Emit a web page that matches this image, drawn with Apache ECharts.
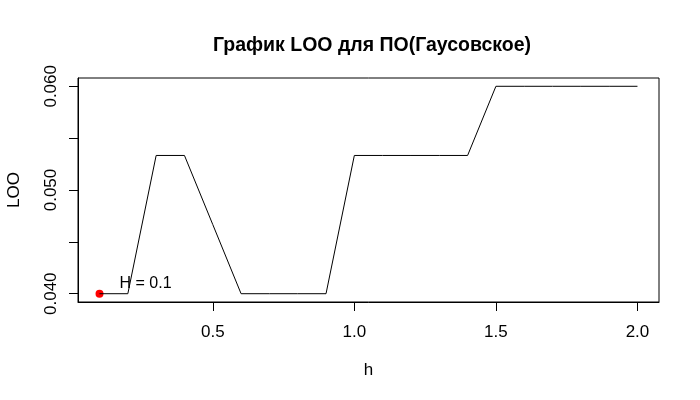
<!DOCTYPE html>
<html>
<head>
<meta charset="utf-8">
<script src="https://cdn.jsdelivr.net/npm/echarts@6/dist/echarts.min.js"></script>
<style>html,body{margin:0;padding:0;background:#fff}#c{width:700px;height:400px}</style>
</head>
<body>
<div id="c"></div>
<script>
const hValues = [0.1, 0.2, 0.3, 0.4, 0.5, 0.6, 0.7, 0.8, 0.9, 1.0, 1.1, 1.2, 1.3, 1.4, 1.5, 1.6, 1.7, 1.8, 1.9, 2.0];
const looValues = [0.04, 0.04, 0.05333, 0.05333, 0.04667, 0.04, 0.04, 0.04, 0.04, 0.05333, 0.05333, 0.05333, 0.05333, 0.05333, 0.06, 0.06, 0.06, 0.06, 0.06, 0.06];
const xTicks = [0.5, 1.0, 1.5, 2.0];
const yTicks = [0.040, 0.045, 0.050, 0.055, 0.060];
const yLabels = [0.040, 0.050, 0.060];
const bestH = 0.1;
const bestLoo = 0.04;
const titleText = 'График LOO для ПО(Гаусовское)';

const FONT = '"Liberation Sans", Arial, sans-serif';
const chart = echarts.init(document.getElementById('c'), null, {renderer: 'canvas'});
chart.setOption({
  animation: false,
  backgroundColor: '#fff',
  title: {
    text: titleText,
    left: 367, top: 31, textAlign: 'center',
    textStyle: {fontFamily: FONT, fontSize: 19.5, fontWeight: 'bold', color: '#000'}
  },
  grid: {left: 78, right: 41, top: 78, bottom: 98, outerBoundsMode: 'none', containLabel: false,
    show: true, borderColor: '#000', borderWidth: 1, backgroundColor: 'transparent'},
  xAxis: {
    type: 'value', min: 0.024, max: 2.076,
    name: 'h', nameLocation: 'middle', nameGap: 60,
    nameTextStyle: {fontFamily: FONT, fontSize: 17, color: '#000'},
    axisLine: {show: true, lineStyle: {color: '#000', width: 1}},
    splitLine: {show: false},
    axisTick: {show: true, length: 9, lineStyle: {color: '#000'}, customValues: xTicks},
    axisLabel: {customValues: xTicks, margin: 22, fontFamily: FONT, fontSize: 17, color: '#000',
      formatter: v => v.toFixed(1)}
  },
  yAxis: {
    type: 'value', min: 0.0392, max: 0.0608,
    name: 'LOO', nameLocation: 'middle', nameGap: 55, nameRotate: 90,
    nameTextStyle: {fontFamily: FONT, fontSize: 17, color: '#000'},
    axisLine: {show: true, lineStyle: {color: '#000', width: 1}},
    splitLine: {show: false},
    axisTick: {show: true, length: 9, lineStyle: {color: '#000'}, customValues: yTicks},
    axisLabel: {customValues: yLabels, rotate: 90, margin: 18, fontFamily: FONT, fontSize: 17, color: '#000',
      formatter: v => v.toFixed(3)}
  },
  series: [
    {
      type: 'line',
      data: hValues.map((h, i) => [h, looValues[i]]),
      showSymbol: false, symbol: 'none',
      lineStyle: {color: '#000', width: 1},
      silent: true
    },
    {
      type: 'scatter',
      data: [[bestH, bestLoo]],
      symbol: 'circle', symbolSize: 8,
      itemStyle: {color: '#ff0000', opacity: 1},
      label: {show: true, position: 'right', offset: [11, -10], formatter: 'H = ' + bestH,
        fontFamily: FONT, fontSize: 16, color: '#000'},
      silent: true
    }
  ]
});
</script>
</body>
</html>
